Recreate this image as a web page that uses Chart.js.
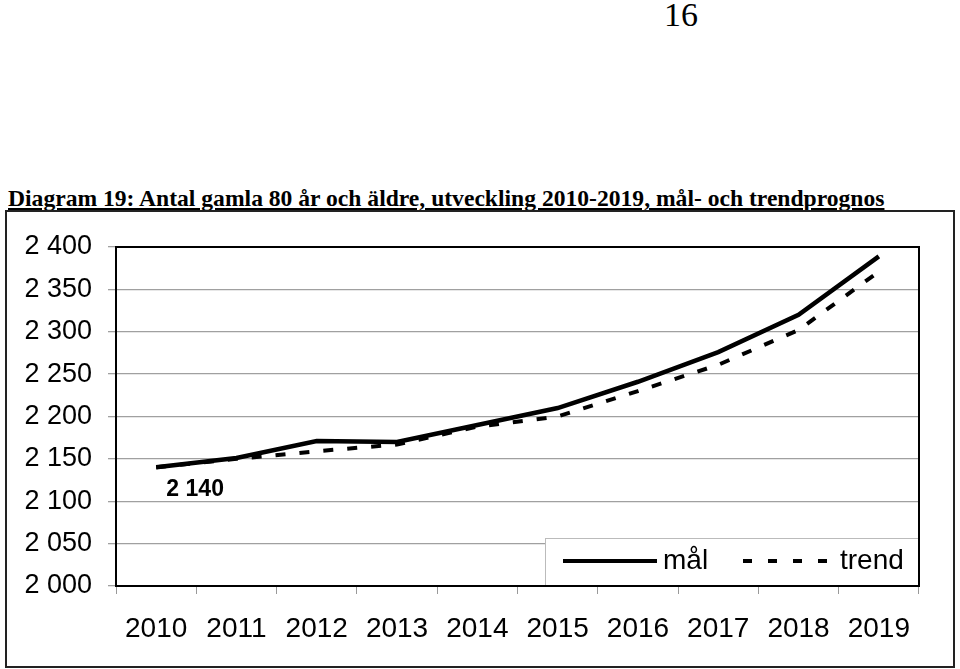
<!DOCTYPE html>
<html>
<head>
<meta charset="utf-8">
<script src="https://cdn.jsdelivr.net/npm/chart.js@4/dist/chart.umd.min.js"></script>
<style>
  body { margin: 0; background: #fff; }
  #page { position: relative; width: 960px; height: 669px; overflow: hidden; }
  #pageno { position: absolute; left: 664px; top: -4px; font: 34px "Liberation Serif", serif; color: #000; }
  #title { position: absolute; left: 8px; top: 187px; font: bold 23.6px "Liberation Serif", serif; line-height: 1; text-decoration: underline; white-space: nowrap; color: #000; }
  #frame { position: absolute; left: 5px; top: 210px; width: 946px; height: 454px; border: 2px solid #222; }
  #myChart { position: absolute; left: 0; top: 0; }
</style>
</head>
<body>
<div id="page">
  <div id="pageno">16</div>
  <div id="title">Diagram 19: Antal gamla 80 år och äldre, utveckling 2010-2019, mål- och trendprognos</div>
  <div id="frame"></div>
  <canvas id="myChart" width="960" height="669"></canvas>
</div>
<script>
var years = ['2010', '2011', '2012', '2013', '2014', '2015', '2016', '2017', '2018', '2019'];
var malValues = [2140, 2151, 2171, 2170, 2190, 2210, 2241, 2276, 2320, 2389];
var trendValues = [2140, 2150, 2159, 2167, 2188, 2200, 2230, 2261, 2302, 2371];
var yTicks = [2000, 2050, 2100, 2150, 2200, 2250, 2300, 2350, 2400];
var firstLabel = '2 140';

function fmt(v) {
  var s = String(v);
  return s.length > 3 ? s.slice(0, s.length - 3) + ' ' + s.slice(-3) : s;
}

// legend box and the "2 140" label
var extras = {
  id: 'extras',
  afterDatasetsDraw: function(chart) {
    var ctx = chart.ctx;
    var xs = chart.scales.x, ys = chart.scales.y;
    ctx.save();
    ctx.fillStyle = '#000';
    ctx.font = 'bold 23px "Liberation Sans", Arial, sans-serif';
    ctx.textAlign = 'center';
    ctx.textBaseline = 'middle';
    ctx.fillText(firstLabel, xs.getPixelForValue(0) + 39, ys.getPixelForValue(malValues[0]) + 22);

    // legend
    var bx = 545, by = 538, bw = chart.chartArea.right - 545, bh = chart.chartArea.bottom - 538;
    ctx.fillStyle = '#fff';
    ctx.fillRect(bx, by, bw, bh);
    ctx.strokeStyle = '#bbb';
    ctx.lineWidth = 1;
    ctx.strokeRect(bx + 0.5, by + 0.5, bw - 1, bh - 1);
    var ly = by + 23;
    var ds = chart.data.datasets;
    ctx.lineWidth = 4;
    ctx.strokeStyle = '#000';
    ctx.setLineDash([]);
    ctx.beginPath(); ctx.moveTo(563, ly); ctx.lineTo(657, ly); ctx.stroke();
    ctx.setLineDash([9, 16]);
    ctx.beginPath(); ctx.moveTo(743, ly); ctx.lineTo(836, ly); ctx.stroke();
    ctx.setLineDash([]);
    ctx.fillStyle = '#000';
    ctx.font = '28px "Liberation Sans", Arial, sans-serif';
    ctx.textAlign = 'left';
    ctx.fillText(ds[0].label, 663, ly);
    ctx.fillText(ds[1].label, 840, ly);

    // plot border
    var a = chart.chartArea;
    ctx.lineWidth = 2;
    ctx.strokeStyle = '#000';
    ctx.strokeRect(a.left, a.top, a.right - a.left, a.bottom - a.top);
    ctx.restore();
  }
};

window.onload = function() {
  var ctx = document.getElementById('myChart').getContext('2d');

  var params = {
    type: 'line',
    data: {
      labels: years,
      datasets: [
        {
          label: 'mål',
          data: malValues,
          borderColor: '#000',
          backgroundColor: '#000',
          borderWidth: 4.5,
          pointRadius: 0,
          tension: 0,
          fill: false,
        },
        {
          label: 'trend',
          data: trendValues,
          borderColor: '#000',
          backgroundColor: '#000',
          borderWidth: 4,
          borderDash: [10, 14],
          pointRadius: 0,
          tension: 0,
          fill: false,
        },
      ],
    },
    options: {
      responsive: false,
      animation: false,
      layout: { padding: { left: 0, top: 247, right: 41, bottom: 0 } },
      plugins: { legend: { display: false }, tooltip: { enabled: false } },
      scales: {
        x: {
          offset: true,
          afterFit: function(s) { s.height = 83; },
          grid: { offset: true, drawOnChartArea: false, drawTicks: true, tickLength: 8, color: '#999' },
          border: { display: false },
          ticks: { color: '#000', padding: 18, maxRotation: 0, font: { family: '"Liberation Sans", Arial, sans-serif', size: 28 } },
        },
        y: {
          min: 2000,
          max: 2400,
          afterFit: function(s) { s.width = 116; },
          afterBuildTicks: function(s) { s.ticks = yTicks.map(function(v) { return { value: v }; }); },
          grid: { color: '#a0a0a0', lineWidth: 1.3, tickLength: 8, drawTicks: true },
          border: { display: false },
          ticks: {
            color: '#000',
            padding: 16,
            font: { family: '"Liberation Sans", Arial, sans-serif', size: 27 },
            callback: function(v) { return fmt(v); },
          },
        },
      },
    },
    plugins: [extras],
  };

  var chart = new Chart(ctx, params);
};
</script>
</body>
</html>
